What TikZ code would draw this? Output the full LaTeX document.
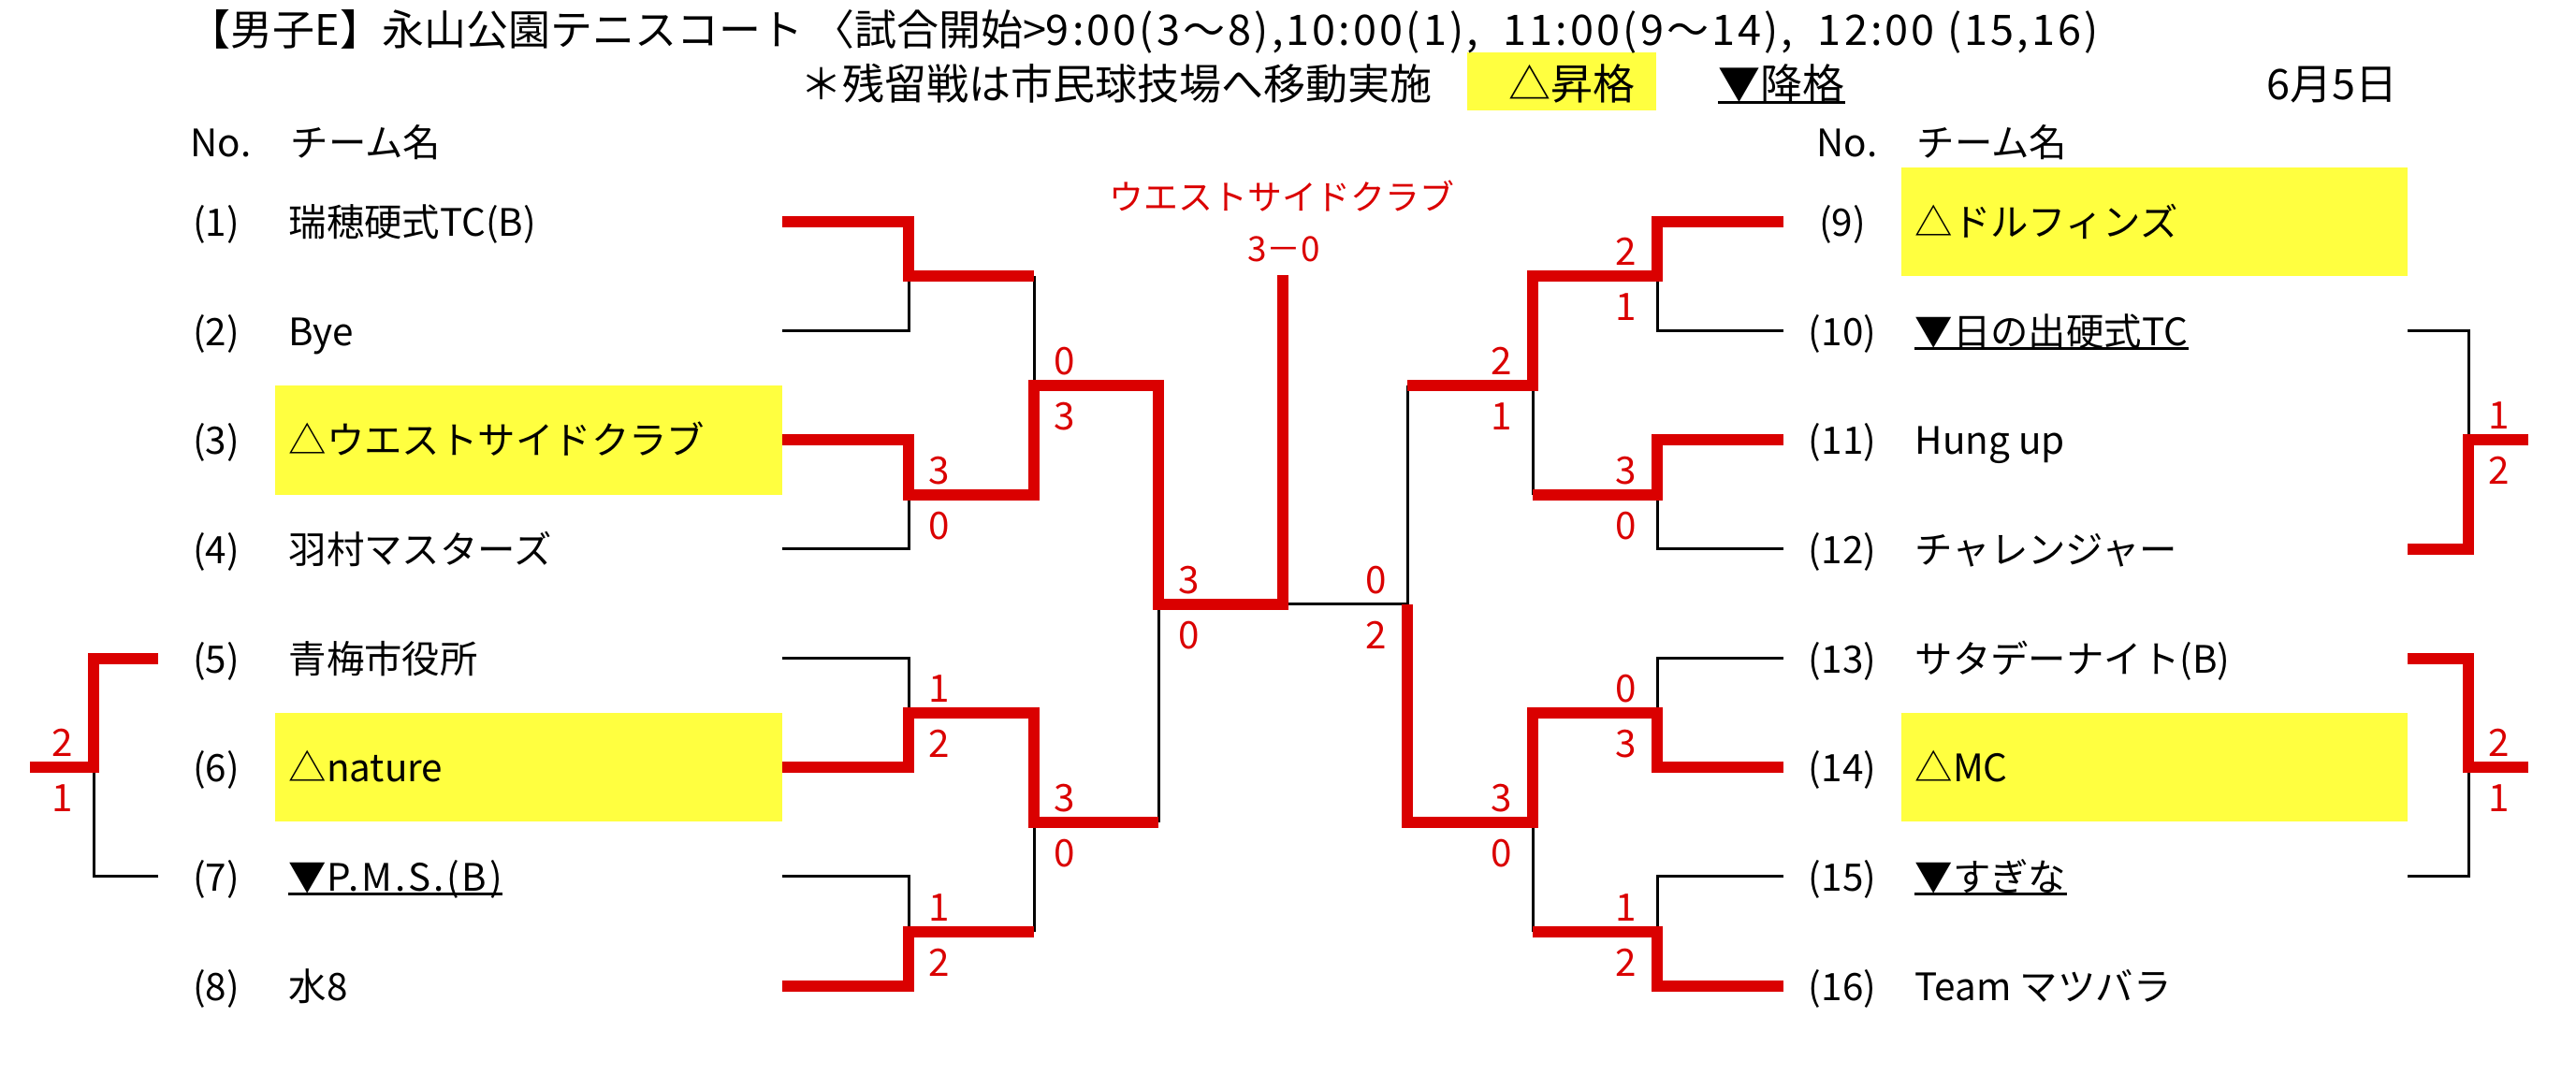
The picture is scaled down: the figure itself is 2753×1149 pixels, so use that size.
\documentclass[tikz,border=0pt]{standalone}
\usepackage{fontspec}
\setmainfont{Noto Sans CJK JP}
\definecolor{winred}{RGB}{218,0,0}
\definecolor{promo}{RGB}{255,255,64}
\tikzset{
  head/.style={anchor=base west, inner sep=0pt, font=\fontsize{12.8}{14}\selectfont},
  team/.style={anchor=base west, inner sep=0pt, yshift=-1.55mm, font=\fontsize{11.5}{13}\selectfont},
  teamno/.style={anchor=base, inner sep=0pt, yshift=-1.55mm, font=\fontsize{11.5}{13}\selectfont},
  score/.style={inner sep=0pt, text=winred, font=\fontsize{11.5}{13}\selectfont},
  hiR/.style={score, xshift=3.3mm, yshift=2.6mm},
  loR/.style={score, xshift=3.3mm, yshift=-3.3mm},
  hiL/.style={score, xshift=-3.3mm, yshift=2.6mm},
  loL/.style={score, xshift=-3.3mm, yshift=-3.3mm},
  final/.style={inner sep=0pt, text=winred, font=\fontsize{10.5}{12}\selectfont},
  win/.style={draw=winred, line width=1.2mm},
  lose/.style={draw=black, line width=0.3mm},
  uline/.style={draw=black, line width=0.3mm},
  hilite/.style={fill=promo}
}

\begin{document}
\begin{tikzpicture}[x=0.1mm, y=-0.1mm]
  \useasboundingbox (0,0) rectangle (2753,1149);

  % yellow cells
  \fill[hilite] (294,412) rectangle (836,529);
  \fill[hilite] (294,762) rectangle (836,878);
  \fill[hilite] (2032,179) rectangle (2573,295);
  \fill[hilite] (2032,762) rectangle (2573,878);
  \fill[hilite] (1568,56) rectangle (1770,118);

  % header
  \node[head] (title) at (201,49) {【男子E】永山公園テニスコート 〈試合開始>{\addfontfeature{LetterSpace=7}9:00(3〜8),10:00(1), \ 11:00(9〜14), \ 12:00 (15,16)}};
  \node[head] (note) at (855,107) {＊残留戦は市民球技場へ移動実施};
  \node[head] (upkey) at (1612,107) {△昇格};
  \node[head] (downkey) at (1836,107) {▼降格};
  \draw[uline] ([yshift=-0.3mm]downkey.base west) -- ([yshift=-0.3mm]downkey.base east);
  \node[head] (date) at (2422,107) {6月5日};

  \node[team] (noL) at (203,152) {No.};
  \node[team] (nameL) at (310,152) {チーム名};
  \node[team] (noR) at (1941,152) {No.};
  \node[team] (nameR) at (2048,152) {チーム名};

  % left teams
  \node[teamno] (no1) at (231,237) {(1)};
  \node[team] (t1) at (308,237) {瑞穂硬式TC(B)};
  \node[teamno] (no2) at (231,354) {(2)};
  \node[team] (t2) at (308,354) {Bye};
  \node[teamno] (no3) at (231,470) {(3)};
  \node[team] (t3) at (308,470) {△ウエストサイドクラブ};
  \node[teamno] (no4) at (231,587) {(4)};
  \node[team] (t4) at (308,587) {羽村マスターズ};
  \node[teamno] (no5) at (231,704) {(5)};
  \node[team] (t5) at (308,704) {青梅市役所};
  \node[teamno] (no6) at (231,820) {(6)};
  \node[team] (t6) at (308,820) {△nature};
  \node[teamno] (no7) at (231,937) {(7)};
  \node[team] (t7) at (308,937) {▼{\addfontfeature{LetterSpace=7}P.M.S.(B)}};
  \draw[uline] ([yshift=-0.3mm]t7.base west) -- ([yshift=-0.3mm]t7.base east);
  \node[teamno] (no8) at (231,1054) {(8)};
  \node[team] (t8) at (308,1054) {水8};

  % right teams
  \node[teamno] (no9) at (1969,237) {(9)};
  \node[team] (t9) at (2046,237) {△ドルフィンズ};
  \node[teamno] (no10) at (1969,354) {(10)};
  \node[team] (t10) at (2046,354) {▼日の出硬式TC};
  \draw[uline] ([yshift=-0.3mm]t10.base west) -- ([yshift=-0.3mm]t10.base east);
  \node[teamno] (no11) at (1969,470) {(11)};
  \node[team] (t11) at (2046,470) {Hung up};
  \node[teamno] (no12) at (1969,587) {(12)};
  \node[team] (t12) at (2046,587) {チャレンジャー};
  \node[teamno] (no13) at (1969,704) {(13)};
  \node[team] (t13) at (2046,704) {サタデーナイト(B)};
  \node[teamno] (no14) at (1969,820) {(14)};
  \node[team] (t14) at (2046,820) {△MC};
  \node[teamno] (no15) at (1969,937) {(15)};
  \node[team] (t15) at (2046,937) {▼すぎな};
  \draw[uline] ([yshift=-0.3mm]t15.base west) -- ([yshift=-0.3mm]t15.base east);
  \node[teamno] (no16) at (1969,1054) {(16)};
  \node[team] (t16) at (2046,1054) {Team マツバラ};

  % line ends and joints
  \coordinate (L1) at (836,237);
  \coordinate (L2) at (836,354);
  \coordinate (L3) at (836,470);
  \coordinate (L4) at (836,587);
  \coordinate (L5) at (836,704);
  \coordinate (L6) at (836,820);
  \coordinate (L7) at (836,937);
  \coordinate (L8) at (836,1054);
  \coordinate (R9) at (1906,237);
  \coordinate (R10) at (1906,354);
  \coordinate (R11) at (1906,470);
  \coordinate (R12) at (1906,587);
  \coordinate (R13) at (1906,704);
  \coordinate (R14) at (1906,820);
  \coordinate (R15) at (1906,937);
  \coordinate (R16) at (1906,1054);
  \coordinate (E5) at (169,704);
  \coordinate (E7) at (169,937);
  \coordinate (E10) at (2573,354);
  \coordinate (E12) at (2573,587);
  \coordinate (E13) at (2573,704);
  \coordinate (E15) at (2573,937);

  \coordinate (m12) at (971,295);
  \coordinate (m34) at (971,529);
  \coordinate (m56) at (971,762);
  \coordinate (m78) at (971,996);
  \coordinate (m14) at (1105,412);
  \coordinate (m58) at (1105,879);
  \coordinate (m18) at (1238,646);
  \coordinate (fin) at (1371,646);
  \coordinate (champ) at (1371,294);
  \coordinate (m910) at (1771,295);
  \coordinate (m1112) at (1771,529);
  \coordinate (m1314) at (1771,762);
  \coordinate (m1516) at (1771,996);
  \coordinate (m912) at (1638,412);
  \coordinate (m1316) at (1638,879);
  \coordinate (m916) at (1504,646);
  \coordinate (x57) at (100,820);
  \coordinate (x57out) at (32,820);
  \coordinate (x1012) at (2638,470);
  \coordinate (x1012out) at (2702,470);
  \coordinate (x1315) at (2638,820);
  \coordinate (x1315out) at (2702,820);

  % lost
  \draw[lose] (L2) -| (m12);
  \draw[lose] (L4) -| (m34);
  \draw[lose] (L5) -| (m56);
  \draw[lose] (L7) -| (m78);
  \draw[lose] (m12 -| m14) -- (m14);
  \draw[lose] (m78 -| m58) -- (m58);
  \draw[lose] (m58 -| m18) -- (m18);
  \draw[lose] (fin) -- (m916);
  \draw[lose] (R10) -| (m910);
  \draw[lose] (R12) -| (m1112);
  \draw[lose] (R13) -| (m1314);
  \draw[lose] (R15) -| (m1516);
  \draw[lose] (m1112 -| m912) -- (m912);
  \draw[lose] (m1516 -| m1316) -- (m1316);
  \draw[lose] (m912 -| m916) -- (m916);
  \draw[lose] (E7) -| (x57);
  \draw[lose] (E10) -| (x1012);
  \draw[lose] (E15) -| (x1315);

  % won
  \draw[win] (L1) -| (m12) -- (m12 -| m14);
  \draw[win] (L3) -| (m34) -| (m14) -| (m18) -| (champ);
  \draw[win] (L6) -| (m56) -| (m58) -- (m58 -| m18);
  \draw[win] (L8) -| (m78) -- (m78 -| m58);
  \draw[win] (R9) -| (m910) -| (m912) -- (m912 -| m916);
  \draw[win] (R11) -| (m1112) -- (m1112 -| m912);
  \draw[win] (R14) -| (m1314) -| (m1316) -| (m916);
  \draw[win] (R16) -| (m1516) -- (m1516 -| m1316);
  \draw[win] (E5) -| (x57) -- (x57out);
  \draw[win] (E12) -| (x1012) -- (x1012out);
  \draw[win] (E13) -| (x1315) -- (x1315out);

  % scores
  \node[hiR] (s34a) at (m34) {3};
  \node[loR] (s34b) at (m34) {0};
  \node[hiR] (s14a) at (m14) {0};
  \node[loR] (s14b) at (m14) {3};
  \node[hiR] (s56a) at (m56) {1};
  \node[loR] (s56b) at (m56) {2};
  \node[hiR] (s78a) at (m78) {1};
  \node[loR] (s78b) at (m78) {2};
  \node[hiR] (s58a) at (m58) {3};
  \node[loR] (s58b) at (m58) {0};
  \node[hiR] (s18a) at (m18) {3};
  \node[loR] (s18b) at (m18) {0};
  \node[hiL] (s910a) at (m910) {2};
  \node[loL] (s910b) at (m910) {1};
  \node[hiL] (s1112a) at (m1112) {3};
  \node[loL] (s1112b) at (m1112) {0};
  \node[hiL] (s912a) at (m912) {2};
  \node[loL] (s912b) at (m912) {1};
  \node[hiL] (s1314a) at (m1314) {0};
  \node[loL] (s1314b) at (m1314) {3};
  \node[hiL] (s1516a) at (m1516) {1};
  \node[loL] (s1516b) at (m1516) {2};
  \node[hiL] (s1316a) at (m1316) {3};
  \node[loL] (s1316b) at (m1316) {0};
  \node[hiL] (s916a) at (m916) {0};
  \node[loL] (s916b) at (m916) {2};
  \node[hiL] (s57a) at (x57) {2};
  \node[loL] (s57b) at (x57) {1};
  \node[hiR] (s1012a) at (x1012) {1};
  \node[loR] (s1012b) at (x1012) {2};
  \node[hiR] (s1315a) at (x1315) {2};
  \node[loR] (s1315b) at (x1315) {1};

  % winner
  \node[final] (champname) at (1370,210) {ウエストサイドクラブ};
  \node[final] (champscore) at (1372,266) {3－0};
\end{tikzpicture}
\end{document}
